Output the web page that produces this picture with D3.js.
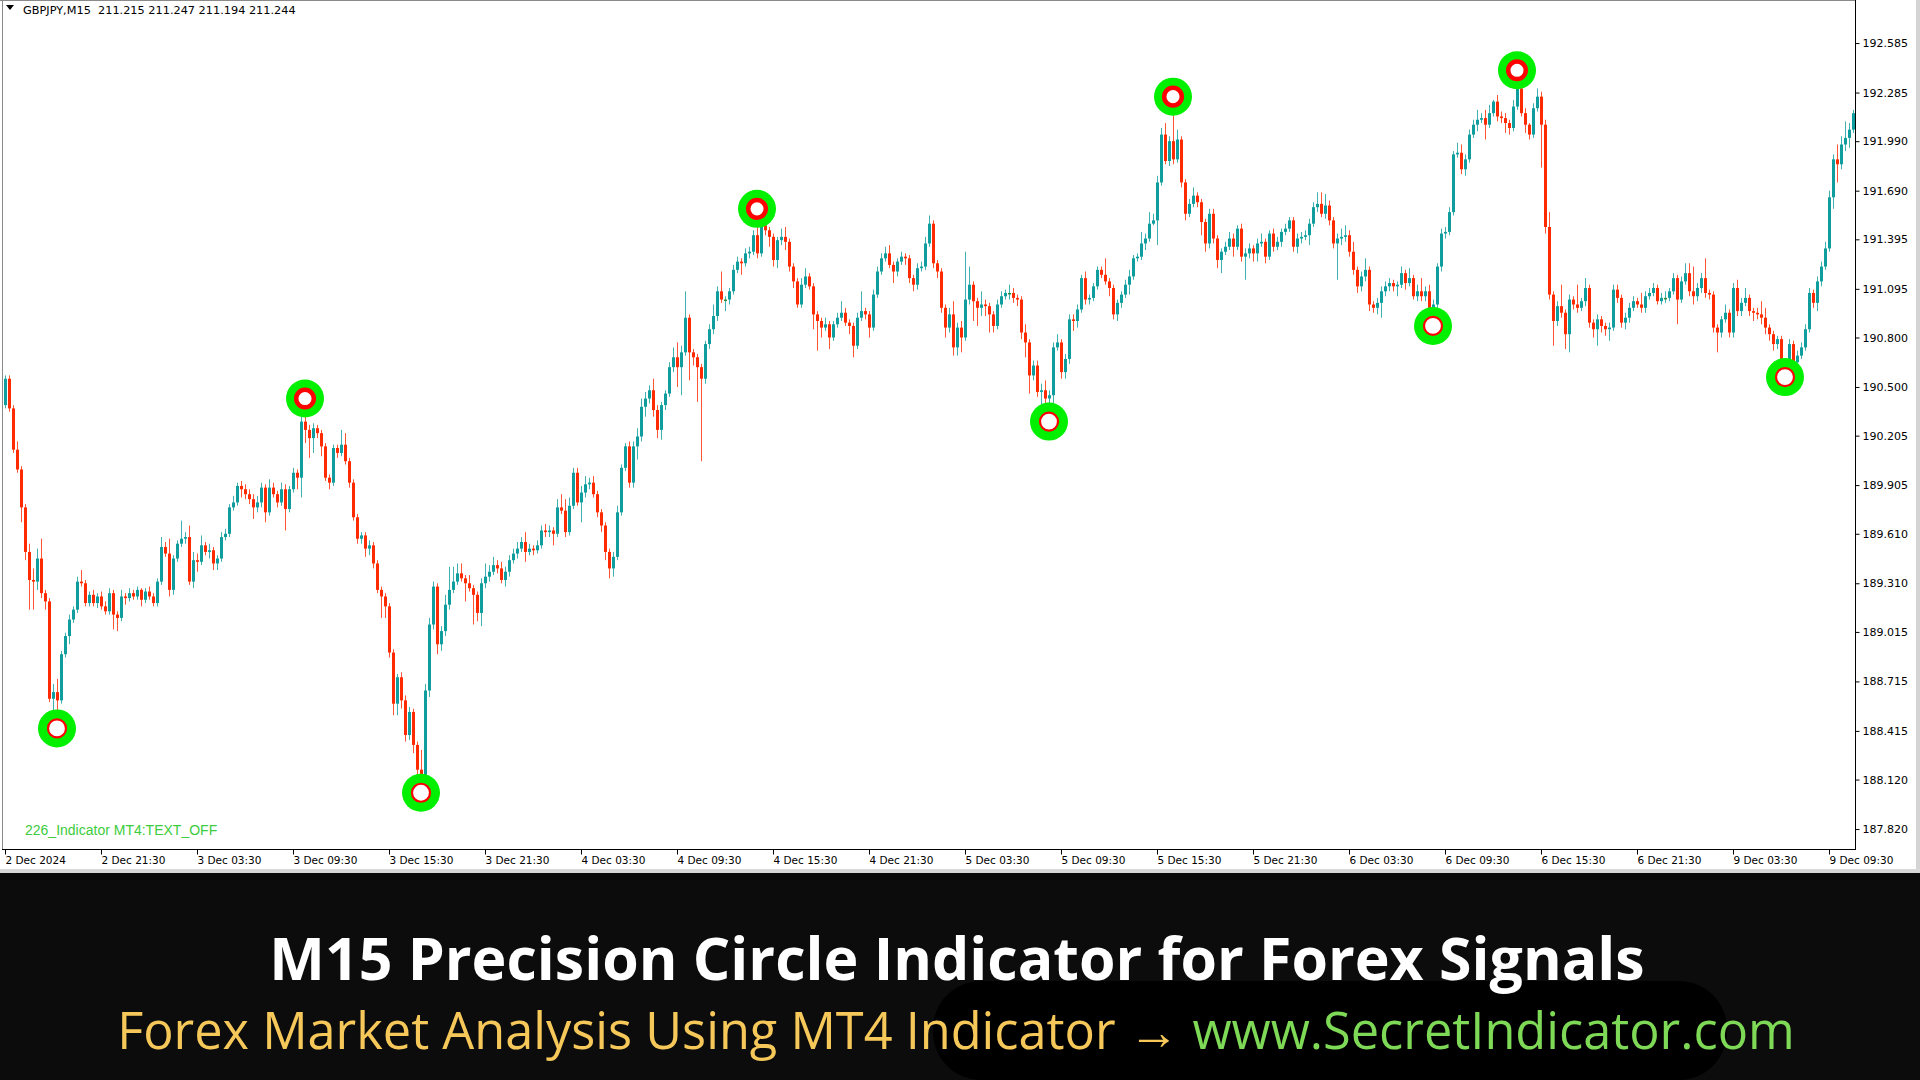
<!DOCTYPE html>
<html>
<head>
<meta charset="utf-8">
<script src="https://d3js.org/d3.v7.min.js"></script>
<style>
  body { margin: 0; background: #ffffff; }
  svg { display: block; }
</style>
</head>
<body>
<svg id="chart" width="1920" height="1080"></svg>
<script>
// GBPJPY M15 candles, one value per bar (bar 0 = 2 Dec 15:30)
var firstOpen = 190.39;

var closes = [
  190.55,190.37,190.12,190.00,189.77,189.50,189.33,189.32,189.46,189.25,
  189.20,188.61,188.65,188.60,188.88,188.99,189.09,189.15,189.32,189.31,
  189.19,189.24,189.19,189.23,189.17,189.14,189.25,189.12,189.10,189.23,
  189.22,189.25,189.23,189.27,189.21,189.26,189.23,189.19,189.32,189.53,
  189.49,189.27,189.46,189.55,189.58,189.59,189.32,189.45,189.44,189.54,
  189.50,189.51,189.43,189.46,189.59,189.61,189.77,189.80,189.90,189.88,
  189.85,189.82,189.77,189.80,189.89,189.74,189.89,189.85,189.80,189.88,
  189.76,189.88,189.98,189.95,190.29,190.24,190.19,190.25,190.22,190.14,
  189.95,189.92,190.13,190.10,190.15,190.05,189.92,189.71,189.58,189.60,
  189.52,189.54,189.43,189.27,189.23,189.17,188.89,188.58,188.74,188.60,
  188.39,188.53,188.33,188.18,188.13,188.66,189.06,189.29,188.94,189.02,
  189.18,189.27,189.32,189.37,189.34,189.31,189.28,189.24,189.13,189.31,
  189.35,189.38,189.42,189.40,189.33,189.38,189.45,189.49,189.52,189.56,
  189.50,189.52,189.51,189.54,189.63,189.62,189.63,189.61,189.77,189.75,
  189.62,189.78,189.98,189.80,189.86,189.91,189.92,189.85,189.74,189.66,
  189.50,189.40,189.47,189.74,190.01,190.14,189.92,190.14,190.20,190.38,
  190.43,190.48,190.36,190.24,190.39,190.46,190.62,190.68,190.62,190.71,
  190.92,190.71,190.68,190.62,190.55,190.76,190.85,190.93,191.08,191.03,
  191.03,191.08,191.21,191.26,191.25,191.31,191.32,191.42,191.31,191.48,
  191.45,191.41,191.27,191.39,191.41,191.38,191.23,191.14,191.00,191.12,
  191.17,191.11,190.94,190.90,190.86,190.88,190.80,190.88,190.92,190.95,
  190.89,190.87,190.75,190.92,190.96,190.94,190.86,191.06,191.20,191.28,
  191.31,191.24,191.20,191.26,191.29,191.28,191.16,191.12,191.22,191.23,
  191.37,191.49,191.25,191.20,190.98,190.86,190.94,190.74,190.86,190.80,
  191.03,191.12,191.02,190.98,191.00,190.99,190.94,190.87,191.00,191.05,
  191.07,191.07,191.04,191.03,190.83,190.77,190.57,190.63,190.47,190.48,
  190.43,190.45,190.74,190.77,190.59,190.67,190.91,190.90,190.97,191.16,
  191.03,191.04,191.11,191.21,191.18,191.14,191.10,190.94,191.01,191.06,
  191.12,191.17,191.28,191.29,191.37,191.40,191.49,191.51,191.74,192.03,
  191.87,191.99,191.88,192.00,191.74,191.55,191.61,191.66,191.62,191.50,
  191.37,191.55,191.40,191.27,191.32,191.35,191.40,191.35,191.46,191.29,
  191.31,191.34,191.31,191.37,191.38,191.29,191.43,191.35,191.38,191.44,
  191.46,191.51,191.35,191.40,191.41,191.42,191.49,191.59,191.61,191.55,
  191.60,191.51,191.37,191.40,191.41,191.42,191.32,191.21,191.11,191.17,
  191.21,191.00,190.98,191.01,191.08,191.11,191.13,191.11,191.12,191.19,
  191.13,191.16,191.05,191.08,191.05,191.08,190.92,191.00,191.23,191.43,
  191.44,191.56,191.91,191.92,191.82,191.88,192.03,192.09,192.12,192.13,
  192.09,192.16,192.23,192.14,192.13,192.10,192.07,192.20,192.31,192.16,
  192.09,192.03,192.19,192.26,192.09,191.47,191.06,190.90,190.99,190.95,
  190.82,191.03,191.00,190.98,191.02,191.10,190.89,190.85,190.91,190.87,
  190.85,190.86,191.09,191.04,190.89,190.92,190.98,191.02,191.00,190.98,
  191.05,191.07,191.10,191.02,191.04,191.04,191.08,191.16,191.03,191.14,
  191.19,191.08,191.05,191.10,191.16,191.07,191.06,190.86,190.83,190.91,
  190.95,190.83,191.10,190.96,191.01,191.04,190.96,190.95,190.94,190.92,
  190.86,190.82,190.76,190.79,190.60,190.63,190.76,190.65,190.69,190.74,
  190.85,191.07,191.01,191.14,191.23,191.34,191.65,191.88,191.85,191.97,
  192.01,192.06,192.16
];

var highs = [
  190.57,190.57,190.39,190.17,190.02,189.79,189.55,189.40,189.52,189.58,
  189.27,189.22,188.70,188.73,188.90,189.01,189.12,189.17,189.35,189.39,
  189.33,189.26,189.27,189.25,189.26,189.20,189.28,189.27,189.14,189.27,
  189.25,189.28,189.27,189.29,189.28,189.28,189.29,189.25,189.34,189.59,
  189.56,189.58,189.48,189.57,189.69,189.62,189.66,189.50,189.49,189.60,
  189.56,189.55,189.53,189.48,189.62,189.64,189.79,189.84,189.92,189.93,
  189.91,189.88,189.85,189.84,189.92,189.91,189.94,189.92,189.87,189.92,
  189.91,189.90,190.01,190.00,190.35,190.34,190.27,190.28,190.27,190.24,
  190.16,189.97,190.15,190.15,190.24,190.22,190.07,189.94,189.73,189.62,
  189.62,189.57,189.56,189.45,189.29,189.25,189.19,188.91,188.76,188.77,
  188.63,188.56,188.55,188.35,188.30,188.70,189.10,189.32,189.31,189.05,
  189.24,189.41,189.41,189.43,189.43,189.36,189.36,189.30,189.26,189.34,
  189.43,189.42,189.47,189.45,189.44,189.41,189.48,189.52,189.56,189.59,
  189.62,189.55,189.54,189.57,189.66,189.67,189.66,189.65,189.82,189.85,
  189.82,189.83,190.01,190.01,189.90,189.96,189.95,189.96,189.87,189.76,
  189.68,189.52,189.50,189.78,190.03,190.16,190.17,190.17,190.25,190.43,
  190.47,190.51,190.55,190.39,190.41,190.48,190.65,190.74,190.77,190.75,
  191.08,190.94,190.73,190.70,190.64,190.78,190.88,191.00,191.11,191.20,
  191.05,191.10,191.24,191.29,191.28,191.34,191.35,191.45,191.51,191.51,
  191.50,191.47,191.43,191.41,191.46,191.47,191.40,191.25,191.16,191.16,
  191.22,191.19,191.13,190.96,190.92,190.92,190.90,190.90,190.95,191.02,
  190.98,190.91,190.89,190.95,191.08,190.98,190.96,191.09,191.23,191.31,
  191.35,191.36,191.26,191.28,191.32,191.31,191.30,191.18,191.25,191.26,
  191.41,191.54,191.51,191.27,191.22,191.00,190.98,191.02,190.89,190.90,
  191.32,191.23,191.14,191.04,191.08,191.03,191.01,190.96,191.03,191.08,
  191.09,191.12,191.10,191.06,191.05,190.88,190.79,190.66,190.66,190.52,
  190.54,190.48,190.77,190.82,190.79,190.70,190.94,190.94,191.00,191.18,
  191.20,191.06,191.13,191.23,191.23,191.28,191.16,191.12,191.03,191.08,
  191.15,191.21,191.30,191.31,191.44,191.43,191.56,191.55,191.78,192.07,
  192.10,192.02,192.19,192.06,192.02,191.76,191.64,191.71,191.68,191.64,
  191.52,191.58,191.58,191.42,191.34,191.38,191.44,191.43,191.48,191.49,
  191.34,191.37,191.36,191.40,191.43,191.40,191.45,191.46,191.41,191.46,
  191.49,191.53,191.53,191.43,191.44,191.45,191.52,191.62,191.68,191.68,
  191.67,191.63,191.53,191.43,191.46,191.48,191.45,191.38,191.23,191.20,
  191.28,191.23,191.02,191.04,191.11,191.14,191.16,191.15,191.14,191.23,
  191.21,191.22,191.18,191.12,191.16,191.11,191.12,191.03,191.25,191.46,
  191.47,191.59,191.93,191.98,191.97,191.91,192.06,192.12,192.18,192.16,
  192.18,192.21,192.24,192.27,192.17,192.16,192.12,192.24,192.36,192.32,
  192.19,192.10,192.22,192.31,192.29,192.12,191.56,191.08,191.02,191.12,
  190.97,191.06,191.05,191.12,191.04,191.16,191.12,190.91,190.94,190.93,
  190.89,190.89,191.12,191.12,191.06,190.95,191.01,191.05,191.04,191.07,
  191.08,191.10,191.13,191.12,191.07,191.08,191.10,191.19,191.18,191.17,
  191.25,191.25,191.23,191.13,191.19,191.28,191.09,191.08,190.88,190.93,
  191.00,190.97,191.13,191.15,191.04,191.10,191.06,190.98,190.98,191.02,
  190.98,190.88,190.84,190.81,190.81,190.66,190.79,190.78,190.72,190.77,
  190.88,191.10,191.09,191.17,191.26,191.38,191.69,191.91,191.97,192.02,
  192.11,192.10,192.18
];

var lows = [
  190.37,190.35,190.10,189.98,189.68,189.45,189.15,189.15,189.27,189.22,
  189.15,188.59,188.48,188.47,188.58,188.86,188.94,189.07,189.13,189.29,
  189.17,189.17,189.17,189.16,189.15,189.12,189.12,189.03,189.02,189.08,
  189.18,189.20,189.21,189.21,189.17,189.19,189.21,189.17,189.17,189.30,
  189.47,189.23,189.24,189.44,189.53,189.55,189.30,189.28,189.38,189.42,
  189.48,189.46,189.39,189.39,189.44,189.57,189.59,189.75,189.78,189.83,
  189.82,189.79,189.70,189.74,189.77,189.68,189.72,189.83,189.77,189.78,
  189.63,189.74,189.86,189.88,189.83,190.16,190.07,190.10,190.19,190.08,
  189.93,189.88,189.90,190.07,190.08,190.03,189.89,189.69,189.55,189.55,
  189.47,189.48,189.40,189.25,189.10,189.10,188.86,188.51,188.51,188.55,
  188.35,188.36,188.28,188.14,188.10,188.11,188.62,189.03,188.88,188.90,
  188.99,189.15,189.25,189.30,189.32,189.20,189.26,189.06,189.08,189.05,
  189.28,189.32,189.36,189.37,189.31,189.29,189.35,189.43,189.46,189.50,
  189.44,189.48,189.48,189.49,189.52,189.59,189.59,189.54,189.59,189.73,
  189.59,189.60,189.76,189.78,189.68,189.83,189.88,189.83,189.71,189.62,
  189.45,189.34,189.35,189.45,189.72,189.99,189.89,189.89,190.06,190.17,
  190.32,190.40,190.32,190.19,190.18,190.36,190.44,190.59,190.50,190.45,
  190.69,190.54,190.63,190.41,190.05,190.52,190.73,190.82,190.90,191.01,
  190.96,191.00,191.06,191.19,191.18,191.23,191.28,191.30,191.28,191.29,
  191.42,191.35,191.23,191.22,191.36,191.33,191.20,191.10,190.98,190.98,
  191.10,191.09,190.85,190.72,190.80,190.84,190.73,190.78,190.86,190.90,
  190.87,190.82,190.68,190.73,190.90,190.91,190.80,190.84,191.04,191.18,
  191.26,191.22,191.13,191.17,191.24,191.24,191.13,191.08,191.09,191.20,
  191.21,191.35,191.22,191.16,190.95,190.80,190.83,190.69,190.69,190.71,
  190.78,191.00,190.90,190.87,190.93,190.93,190.83,190.83,190.85,190.98,
  191.03,191.03,191.01,190.99,190.79,190.68,190.46,190.54,190.44,190.36,
  190.38,190.37,190.40,190.72,190.55,190.55,190.64,190.84,190.86,190.95,
  191.00,191.00,191.02,191.09,191.16,191.12,191.05,190.91,190.90,190.98,
  191.04,191.06,191.15,191.26,191.27,191.33,191.38,191.48,191.36,191.72,
  191.85,191.84,191.85,191.86,191.71,191.51,191.53,191.59,191.59,191.42,
  191.32,191.34,191.37,191.22,191.19,191.30,191.33,191.29,191.33,191.26,
  191.15,191.28,191.26,191.26,191.35,191.25,191.27,191.32,191.33,191.35,
  191.42,191.44,191.32,191.31,191.37,191.39,191.36,191.47,191.56,191.53,
  191.52,191.48,191.34,191.15,191.36,191.38,191.29,191.18,191.07,191.08,
  191.14,190.96,190.95,190.94,190.92,191.05,191.08,191.08,191.05,191.10,
  191.09,191.11,191.03,191.02,191.02,191.02,190.89,190.89,190.98,191.20,
  191.40,191.42,191.54,191.89,191.79,191.78,191.86,192.01,192.05,192.10,
  192.00,192.07,192.14,192.11,192.10,192.04,192.03,192.05,192.18,192.14,
  192.04,192.00,192.01,192.17,191.83,191.43,191.03,190.75,190.87,190.92,
  190.73,190.71,190.97,190.95,190.96,190.99,190.86,190.80,190.75,190.83,
  190.81,190.78,190.84,191.01,190.86,190.85,190.89,190.96,190.98,190.95,
  190.95,191.03,191.05,191.00,191.00,191.01,191.02,191.06,190.88,191.01,
  191.12,191.05,191.00,191.02,191.07,191.04,191.03,190.83,190.71,190.80,
  190.89,190.80,190.80,190.93,190.93,190.99,190.93,190.90,190.91,190.88,
  190.82,190.78,190.72,190.73,190.57,190.58,190.61,190.62,190.63,190.67,
  190.72,190.83,190.98,190.96,191.11,191.21,191.32,191.58,191.74,191.82,
  191.93,191.95,192.04
];

// indicator circles
var signalBars   = [13, 75, 104, 188, 261, 292, 357, 378, 445];
var signalPrices = [188.43, 190.43, 188.04, 191.58, 190.29, 192.26, 190.87, 192.42, 190.56];
var signalKinds  = ["buy", "sell", "buy", "sell", "buy", "sell", "buy", "sell", "buy"];

// price axis labels (MT4 steps)
var priceTicks = [192.585, 192.285, 191.990, 191.690, 191.395, 191.095, 190.800, 190.500,
                  190.205, 189.905, 189.610, 189.310, 189.015, 188.715, 188.415, 188.120, 187.820];

// time axis, a label every 24 bars
var timeTickBars = [0, 24, 48, 72, 96, 120, 144, 168, 192, 216, 240, 264, 288, 312, 336, 360, 384, 408, 432, 456];
var timeLabels = ["2 Dec 2024", "2 Dec 21:30", "3 Dec 03:30", "3 Dec 09:30", "3 Dec 15:30", "3 Dec 21:30",
                  "4 Dec 03:30", "4 Dec 09:30", "4 Dec 15:30", "4 Dec 21:30", "5 Dec 03:30", "5 Dec 09:30",
                  "5 Dec 15:30", "5 Dec 21:30", "6 Dec 03:30", "6 Dec 09:30", "6 Dec 15:30", "6 Dec 21:30",
                  "9 Dec 03:30", "9 Dec 09:30"];

var plotRight = 1855, plotBottom = 849;
var bullColor = "#0f9d9d", bearColor = "#ff2a00";
var axisFont = "'DejaVu Sans', Verdana, sans-serif";

// build candle rows, open = previous close
var candles = closes.map(function(c, i) {
    return { i: i, o: i === 0 ? firstOpen : closes[i - 1], h: highs[i], l: lows[i], c: c };
});

var xScale = d3.scaleLinear().domain([0, 462]).range([5, 1853]);
var yScale = d3.scaleLinear().domain([187.699, 192.846]).range([plotBottom, 0]);

var svg = d3.select("#chart");

// background
svg.append("rect").attr("width", 1920).attr("height", 1080).attr("fill", "#ffffff");

// candles
var candleG = svg.append("g");

candleG.selectAll("line.wick")
    .data(candles)
  .enter().append("line")
    .attr("class", "wick")
    .attr("x1", function(d) { return Math.round(xScale(d.i)) + 0.5; })
    .attr("x2", function(d) { return Math.round(xScale(d.i)) + 0.5; })
    .attr("y1", function(d) { return yScale(d.h); })
    .attr("y2", function(d) { return yScale(d.l); })
    .attr("stroke", function(d) { return d.c >= d.o ? bullColor : bearColor; })
    .attr("stroke-opacity", 0.8)
    .attr("stroke-width", 1);

candleG.selectAll("rect.body")
    .data(candles)
  .enter().append("rect")
    .attr("class", "body")
    .attr("x", function(d) { return Math.round(xScale(d.i)) - 1; })
    .attr("width", 3)
    .attr("y", function(d) { return yScale(Math.max(d.o, d.c)); })
    .attr("height", function(d) { return Math.max(1.5, Math.abs(yScale(d.o) - yScale(d.c))); })
    .attr("fill", function(d) { return d.c > d.o ? bullColor : (d.c < d.o ? bearColor : "#2e8b2e"); });

// signal circles
var sigG = svg.append("g");
signalBars.forEach(function(b, k) {
    var cx = xScale(b), cy = yScale(signalPrices[k]);
    sigG.append("circle").attr("cx", cx).attr("cy", cy).attr("r", 19).attr("fill", "#00f000");
    if (signalKinds[k] === "sell") {
        sigG.append("circle").attr("cx", cx).attr("cy", cy).attr("r", 8.8)
            .attr("fill", "#ffffff").attr("stroke", "#ff0000").attr("stroke-width", 4.5);
    } else {
        sigG.append("circle").attr("cx", cx).attr("cy", cy).attr("r", 9)
            .attr("fill", "#ffffff").attr("stroke", "#ff0000").attr("stroke-width", 2.2);
    }
});

// frame
svg.append("line").attr("x1", 2.5).attr("x2", 2.5).attr("y1", 0).attr("y2", plotBottom)
    .attr("stroke", "#8a8a8a");
svg.append("line").attr("x1", 0).attr("x2", plotRight).attr("y1", 0.5).attr("y2", 0.5)
    .attr("stroke", "#8a8a8a");
svg.append("line").attr("x1", plotRight + 0.5).attr("x2", plotRight + 0.5).attr("y1", 0).attr("y2", plotBottom + 1)
    .attr("stroke", "#000");
svg.append("line").attr("x1", 2).attr("x2", plotRight + 1).attr("y1", plotBottom + 0.5).attr("y2", plotBottom + 0.5)
    .attr("stroke", "#000");
svg.append("rect").attr("x", 1916).attr("y", 0).attr("width", 4).attr("height", 870).attr("fill", "#d4d4d4");

// price axis
var yAxis = svg.append("g")
    .attr("transform", "translate(" + (plotRight + 0.5) + ",0)")
    .call(d3.axisRight(yScale).tickValues(priceTicks).tickFormat(d3.format(".3f")).tickSize(4).tickPadding(3));
yAxis.select(".domain").remove();
yAxis.selectAll("line").attr("stroke", "#000");
yAxis.selectAll("text").attr("fill", "#000").style("font-family", axisFont).style("font-size", "11px");

// time axis
var xAxis = svg.append("g")
    .attr("transform", "translate(0," + (plotBottom + 0.5) + ")")
    .call(d3.axisBottom(xScale).tickValues(timeTickBars)
        .tickFormat(function(d, i) { return timeLabels[i]; }).tickSize(5).tickPadding(2));
xAxis.select(".domain").remove();
xAxis.selectAll(".tick line").attr("stroke", "#000");
xAxis.selectAll("text").attr("fill", "#000").attr("text-anchor", "start").attr("x", 0)
    .style("font-family", axisFont).style("font-size", "10.5px");

// header
svg.append("path").attr("d", "M6,5 L14,5 L10,10 Z").attr("fill", "#000");
svg.append("text").attr("x", 23).attr("y", 14)
    .attr("xml:space", "preserve")
    .style("font-family", axisFont).style("font-size", "11.3px").attr("fill", "#000")
    .text("GBPJPY,M15  211.215 211.247 211.194 211.244");

// indicator label
svg.append("text").attr("x", 25).attr("y", 835)
    .style("font-family", "'Liberation Sans', Arial, sans-serif").style("font-size", "14px")
    .attr("fill", "#3ccc3c")
    .text("226_Indicator MT4:TEXT_OFF");

// banner
svg.append("rect").attr("x", 0).attr("y", 869).attr("width", 1920).attr("height", 4).attr("fill", "#d9d9d9");
svg.append("rect").attr("x", 0).attr("y", 873).attr("width", 1920).attr("height", 207).attr("fill", "#0c0c0c");
svg.append("rect").attr("x", 933).attr("y", 981).attr("width", 794).attr("height", 99).attr("rx", 48)
    .attr("fill", "#000000");

svg.append("text").attr("x", 957).attr("y", 980).attr("text-anchor", "middle")
    .style("font-family", "'Open Sans', 'Noto Sans', sans-serif").style("font-weight", 700)
    .style("font-size", "59px").attr("fill", "#ffffff")
    .text("M15 Precision Circle Indicator for Forex Signals");

var sub = svg.append("text").attr("x", 956).attr("y", 1049).attr("text-anchor", "middle")
    .style("font-family", "'Open Sans', 'Noto Sans', sans-serif").style("font-size", "50.5px");
sub.append("tspan").attr("fill", "#f6c85a").text("Forex Market Analysis Using MT4 Indicator \u2192 ");
sub.append("tspan").attr("fill", "#7ed957").text("www.SecretIndicator.com");
</script>
</body>
</html>
